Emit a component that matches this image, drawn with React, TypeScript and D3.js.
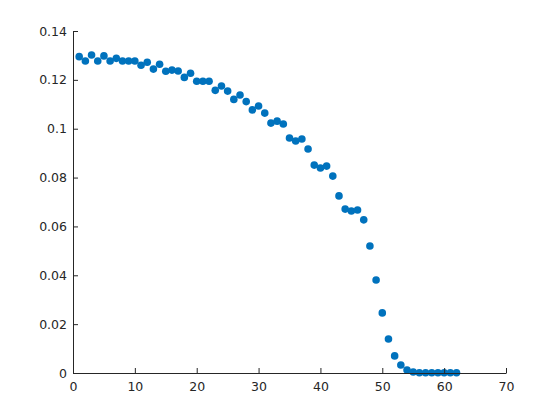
import React, { useEffect, useRef } from 'react';
import * as d3 from 'd3';

// sample index (1..62) and measured value
const xs = d3.range(1, 63);
const ys = [
  0.1295, 0.1277, 0.1302, 0.1277, 0.1298, 0.1277, 0.1288, 0.1277, 0.1277, 0.1277,
  0.1260, 0.1272, 0.1244, 0.1264, 0.1235, 0.1240, 0.1236, 0.1210, 0.1227, 0.1194,
  0.1194, 0.1194, 0.1157, 0.1175, 0.1154, 0.1120, 0.1138, 0.1111, 0.1077, 0.1093,
  0.1064, 0.1023, 0.1031, 0.1019, 0.0962, 0.0950, 0.0958, 0.0917, 0.0851, 0.0839,
  0.0847, 0.0806, 0.0725, 0.0671, 0.0663, 0.0667, 0.0627, 0.0520, 0.0381, 0.0246,
  0.0139, 0.0070, 0.0033, 0.0012, 0.0004, 0.0001, 0.0001, 0.0001, 0.0001, 0.0001,
  0.0001, 0.0001,
];
const xTicks = [0, 10, 20, 30, 40, 50, 60, 70];
const yTicks = [0, 0.02, 0.04, 0.06, 0.08, 0.1, 0.12, 0.14];

function App() {
  const svgRef = useRef<SVGSVGElement>(null);

  useEffect(() => {
    const svg = d3.select(svgRef.current);
    svg.selectAll('*').remove();

    const left = 73, right = 506, top = 31, bottom = 373;
    const axisColor = '#262626';

    const x = d3.scaleLinear().domain([0, 70]).range([left, right]);
    const y = d3.scaleLinear().domain([0, 0.14]).range([bottom, top]);

    // points
    svg.append('g')
      .selectAll('circle')
      .data(xs)
      .join('circle')
      .attr('cx', (d) => x(d))
      .attr('cy', (d, i) => y(ys[i]))
      .attr('r', 3.8)
      .attr('fill', '#0072BD');

    // x axis, ticks point inward (matlab style)
    const xAxis = svg.append('g')
      .attr('transform', `translate(0,${bottom})`)
      .call(d3.axisBottom(x).tickValues(xTicks).tickSizeInner(-5).tickSizeOuter(0).tickPadding(9)
        .tickFormat((d) => String(d)));

    const yAxis = svg.append('g')
      .attr('transform', `translate(${left},0)`)
      .call(d3.axisLeft(y).tickValues(yTicks).tickSizeInner(-5).tickSizeOuter(0).tickPadding(6)
        .tickFormat((d) => String(+d)));

    [xAxis, yAxis].forEach((g) => {
      g.select('.domain').attr('stroke', axisColor).attr('stroke-width', 1);
      g.selectAll('.tick line').attr('stroke', axisColor);
      g.selectAll('.tick text')
        .attr('fill', axisColor)
        .style('font-family', '"DejaVu Sans", sans-serif')
        .style('font-size', '12.5px');
    });
  }, []);

  return (
    <svg
      ref={svgRef}
      width={560}
      height={420}
      style={{ position: 'absolute', left: 0, top: 0, background: '#fff' }}
    />
  );
}

export default App;
